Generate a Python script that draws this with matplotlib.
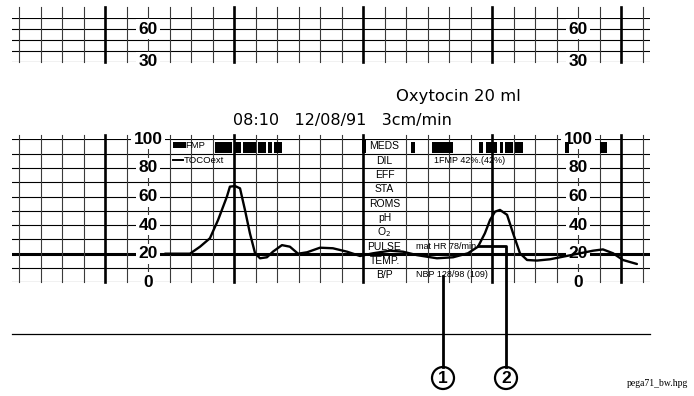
import matplotlib
matplotlib.use("Agg")
import matplotlib.pyplot as plt
from matplotlib.patches import Circle, Rectangle
import numpy as np

plt.rcParams['font.family'] = ['Liberation Sans', 'DejaVu Sans']

# ---------------- data ----------------
# time axis in chart-paper cells (1 cell = 1 cm of paper)
toco_t = [6.79, 7.95, 8.42, 8.88, 9.26, 9.67, 9.81, 10.05, 10.28, 10.51, 10.74, 10.98,
          11.21, 11.53, 11.81, 12.23, 12.6, 12.98, 13.4, 14.0, 14.6, 15.26, 15.86,
          16.47, 17.26, 17.86, 18.51, 19.44, 20.19, 20.88, 21.35, 21.67, 21.91, 22.14,
          22.37, 22.7, 22.98, 23.3, 23.63, 24.09, 24.7, 25.3, 26.0, 26.7, 27.16,
          27.63, 28.09, 28.74]
toco_val = [20, 20, 24.9, 30.8, 43.6, 59.9, 66.9, 67.3, 65.7, 50.6, 34.3, 20.3,
            16.8, 17.5, 21.4, 26, 24.9, 20, 21, 24.2, 23.8, 21.4, 18.4,
            20.3, 22.1, 21.4, 19, 16.8, 17.5, 20.3, 24.9, 34.3, 43.6, 49.4,
            50.6, 47.2, 34.3, 20.3, 15.6, 15.2, 16.1, 17.9, 20.0, 22.1, 23.0,
            20.3, 15.6, 12.8]

fmp_start = [9.12, 10.0, 10.42, 11.12, 11.58, 11.86, 18.23, 19.21, 21.40, 21.72,
             22.37, 22.60, 23.07, 25.40, 27.02]
fmp_end = [9.91, 10.33, 11.02, 11.49, 11.77, 12.23, 18.42, 20.19, 21.58, 22.23,
           22.51, 22.98, 23.44, 25.58, 27.35]
meds_start = [15.95]
meds_end = [16.14]

lower_ticks = [0, 20, 40, 60, 80, 100]
upper_ticks = [30, 60]
table_rows = ["MEDS", "DIL", "EFF", "STA", "ROMS", "pH", "O$_2$", "PULSE", "TEMP.", "B/P"]

header_top = "Oxytocin 20 ml"
header = "08:10   12/08/91   3cm/min"
note_fmp = "1FMP 42%.(42%)"
note_hr = "mat HR 78/min"
note_bp = "NBP 128/98 (109)"
file_label = "pega71_bw.hpg"

# ---------------- layout ----------------
W, H = 694, 396
fig = plt.figure(figsize=(W / 100, H / 100), dpi=100)
fig.patch.set_facecolor("white")

X0, CELL = 19.0, 21.5          # pixel of cell 0 and cell width
LEFT_PX, RIGHT_PX = 12, 650
xlim = ((LEFT_PX - X0) / CELL, (RIGHT_PX - X0) / CELL)


def ax_at(top_px, bot_px):
    return fig.add_axes([LEFT_PX / W, 1 - bot_px / H, (RIGHT_PX - LEFT_PX) / W,
                         (bot_px - top_px) / H])


# overlay for annotations in pixel coordinates
ov = fig.add_axes([0, 0, 1, 1])
ov.set_xlim(0, W)
ov.set_ylim(H, 0)
ov.axis("off")
ov.set_zorder(5)
ov.patch.set_alpha(0)

up = ax_at(18.3, 61.7)
lo = ax_at(139.3, 282.3)
for a in (up, lo):
    a.set_xlim(*xlim)
    a.axis("off")
    a.patch.set_alpha(0)
up.set_ylim(30, 70)
lo.set_ylim(0, 100)

THIN = 0.8
vcol = "#3a3a3a"
ncell = 30
LABFS = 12.5

# upper strip grid
for v in range(30, 71, 10):
    up.axhline(v, color="black", lw=THIN, zorder=1)
for k in range(ncell):
    thick = (k - 4) % 6 == 0
    up.axvline(k, ymin=0, ymax=1.26, color="black" if thick else vcol,
               lw=1.9 if thick else THIN, clip_on=False, zorder=1)
for ux in (6, 26):
    for v in upper_ticks:
        up.text(ux, v, str(v), ha="center", va="center", fontsize=LABFS,
                fontweight="bold", zorder=3,
                bbox=dict(boxstyle="square,pad=0.15", fc="white", ec="none"))

# lower strip grid
for v in range(0, 101, 10):
    if v == 20:
        lo.axhline(v, color="black", lw=2.2, zorder=1)
    else:
        lo.axhline(v, color="black", lw=THIN, zorder=1)
for k in range(ncell):
    if k == 17:
        continue
    thick = (k - 4) % 6 == 0
    lo.axvline(k, ymin=0, ymax=1.03, color="black" if thick else vcol,
               lw=1.9 if thick else THIN, clip_on=False, zorder=1)
for ux in (6, 26):
    for v in lower_ticks:
        lo.text(ux, v, str(v), ha="center", va="center", fontsize=LABFS,
                fontweight="bold", zorder=3,
                bbox=dict(boxstyle="square,pad=0.15", fc="white", ec="none"))

# table labels
for i, lab in enumerate(table_rows):
    lo.text(17, 95 - 10 * i, lab, ha="center", va="center", fontsize=7.5, zorder=3)

# FMP bars
for s, e in zip(fmp_start, fmp_end):
    lo.add_patch(Rectangle((s, 90.5), e - s, 7.5, color="black", lw=0, zorder=4))
for s, e in zip(meds_start, meds_end):
    lo.add_patch(Rectangle((s, 90.5), e - s, 10.0, color="black", lw=0, zorder=4))

# legend
lo.add_patch(Rectangle((7.15, 94), 0.6, 3.8, color="black", lw=0, zorder=4))
lo.text(7.72, 95.8, "FMP", fontsize=6.8, va="center", ha="left", zorder=4)
lo.plot([7.15, 7.65], [85.5, 85.5], color="black", lw=1.4, zorder=4)
lo.text(7.68, 85.5, "TOCOext", fontsize=6.8, va="center", ha="left", zorder=4)

# notes
lo.text(19.3, 85, note_fmp, fontsize=6.5, va="center", ha="left", zorder=4)
lo.text(18.45, 25, note_hr, fontsize=6.5, va="center", ha="left", zorder=4)
lo.text(18.45, 5.5, note_bp, fontsize=6.5, va="center", ha="left", zorder=4)

# TOCO curve
lo.plot(toco_t, toco_val, color="black", lw=1.7, solid_joinstyle="round",
        solid_capstyle="round", zorder=5)

# headers
hdr_font = ["DejaVu Sans"]
fig.text(396 / W, 1 - 96 / H, header_top, fontsize=11.8, ha="left", va="center",
         family=hdr_font)
fig.text(233 / W, 1 - 121 / H, header, fontsize=11.5, ha="left", va="center",
         family=hdr_font)

# separator line
ov.plot([12, 650], [334, 334], color="black", lw=0.9)

# callouts
ov.plot([443, 443], [276, 367], color="black", lw=2.0)
ov.plot([478, 506, 506], [246, 246, 367], color="black", lw=2.0)
for cx, lab in ((443, "1"), (506, "2")):
    ov.add_patch(Circle((cx, 378), 11, fc="white", ec="black", lw=1.6))
    ov.text(cx, 378.5, lab, ha="center", va="center", fontsize=12.5, fontweight="bold")

ov.text(657, 383, file_label, fontsize=7, ha="center", va="center",
        family=["Liberation Serif", "DejaVu Serif"])

fig.savefig("out.png", dpi=100, facecolor="white")
